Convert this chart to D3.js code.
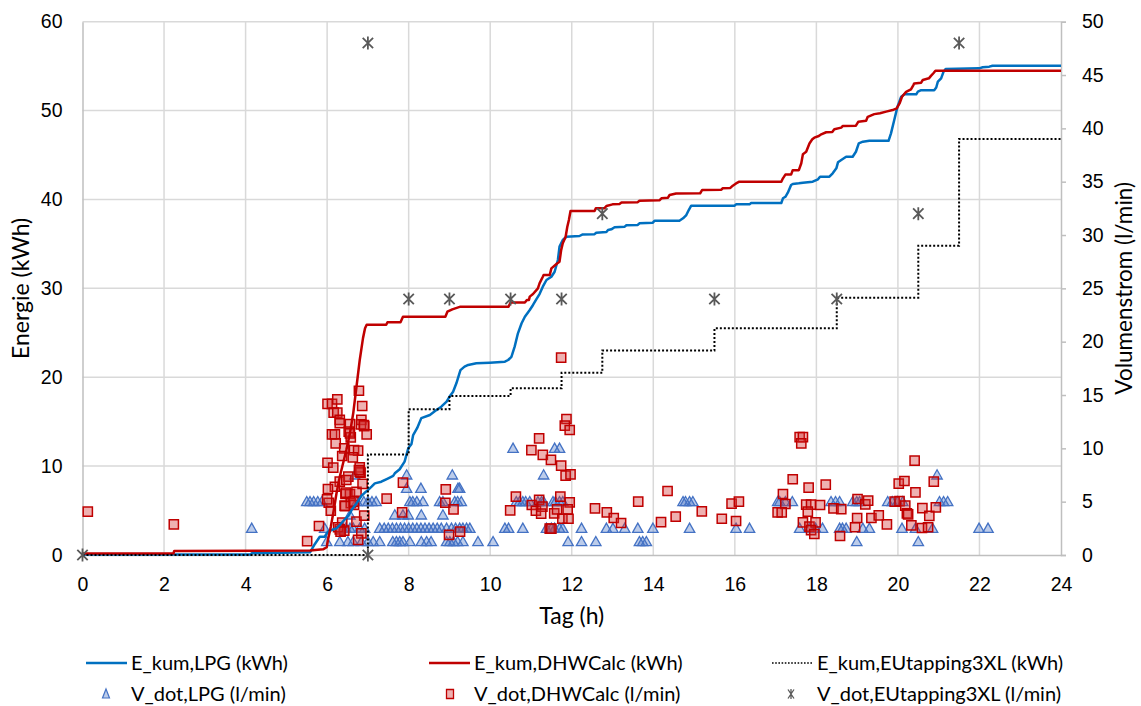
<!DOCTYPE html>
<html>
<head>
<meta charset="utf-8">
<script src="https://cdn.jsdelivr.net/npm/d3@7"></script>
<style>
  html, body { margin: 0; padding: 0; background: #fff; }
  svg { display: block; font-family: Lato, "Open Sans", sans-serif; }
</style>
</head>
<body>
<svg id="chart" width="1141" height="706"></svg>
<script>
// Cumulative energy (kWh) over the day, as [hour, kWh] points
const energyLPG = [[0,0.05],[4.13,0.05],[4.15,0.2],[5.58,0.3],[5.7,1.24],[5.82,2.06],[5.94,2.06],[6.02,2.62],[6.11,2.81],[6.23,3.0],[6.31,3.37],[6.42,3.94],[6.52,4.39],[6.6,5.06],[6.72,5.81],[6.84,6.64],[6.92,7.0],[7.0,7.3],[7.09,7.69],[7.17,8.06],[7.33,8.25],[7.5,8.63],[7.62,8.9],[7.66,9.19],[7.78,9.65],[7.9,10.5],[7.99,12.0],[8.07,12.5],[8.11,13.5],[8.21,14.3],[8.31,15.4],[8.52,15.75],[8.68,16.3],[8.8,16.69],[8.93,17.25],[9.0,17.8],[9.09,18.37],[9.17,19.32],[9.27,20.8],[9.37,21.19],[9.46,21.38],[9.66,21.57],[9.99,21.64],[10.36,21.75],[10.44,21.94],[10.52,22.3],[10.6,23.44],[10.68,24.94],[10.77,26.07],[10.85,26.81],[10.97,27.56],[11.05,28.13],[11.13,28.75],[11.21,29.36],[11.29,30.19],[11.38,30.94],[11.5,31.3],[11.58,31.87],[11.66,33.19],[11.7,34.69],[11.78,35.44],[11.87,35.81],[12.19,35.89],[12.27,36.07],[12.56,36.1],[12.6,36.26],[12.85,36.33],[12.89,36.56],[12.97,36.64],[13.05,36.87],[13.3,36.94],[13.34,37.1],[13.62,37.13],[13.66,37.32],[13.99,37.39],[14.03,37.61],[14.64,37.61],[14.73,37.88],[14.81,38.25],[14.87,38.81],[14.93,39.3],[15.99,39.3],[16.03,39.45],[16.36,39.45],[16.4,39.6],[17.14,39.6],[17.18,40.13],[17.24,40.3],[17.3,40.76],[17.38,41.63],[17.42,41.74],[17.57,41.82],[17.67,41.89],[17.91,42.0],[18.04,42.27],[18.09,42.56],[18.32,42.56],[18.4,42.94],[18.49,43.5],[18.53,44.18],[18.61,44.44],[18.73,44.81],[18.89,44.81],[18.97,45.37],[19.04,46.32],[19.14,46.5],[19.3,46.6],[19.77,46.6],[19.83,47.44],[19.91,48.94],[19.99,50.44],[20.08,51.56],[20.16,51.83],[20.45,51.83],[20.49,52.13],[20.57,52.3],[20.89,52.3],[20.94,52.6],[20.98,53.25],[21.06,53.63],[21.12,54.38],[21.17,54.68],[21.99,54.75],[22.08,54.87],[22.24,54.94],[22.32,55.05],[24,55.05]];

const energyDHWCalc = [[0,0.17],[2.23,0.17],[2.25,0.45],[5.58,0.5],[5.9,0.64],[5.99,0.87],[6.02,1.69],[6.09,3.19],[6.15,4.69],[6.23,6.94],[6.31,8.81],[6.39,10.3],[6.47,11.8],[6.56,13.7],[6.64,15.94],[6.72,18.93],[6.8,21.94],[6.88,24.4],[6.93,25.5],[6.97,25.9],[7.45,25.9],[7.48,26.18],[7.8,26.18],[7.86,26.81],[8.9,26.81],[8.95,27.37],[9.07,27.64],[9.27,27.94],[10.45,27.94],[10.5,28.4],[10.85,28.4],[10.9,28.7],[10.95,28.7],[10.97,29.07],[11.05,29.36],[11.17,30.0],[11.21,30.56],[11.29,31.3],[11.31,31.5],[11.46,31.5],[11.5,32.25],[11.64,32.8],[11.7,33.0],[11.74,34.3],[11.78,35.07],[11.85,35.8],[11.89,36.9],[11.93,37.7],[11.97,38.7],[12.56,38.7],[12.59,39.0],[12.8,39.0],[12.85,39.26],[13.0,39.45],[13.17,39.5],[13.22,39.67],[13.62,39.7],[13.66,39.86],[14.15,39.9],[14.2,40.13],[14.36,40.2],[14.4,40.5],[14.56,40.68],[15.15,40.7],[15.2,41.07],[15.67,41.1],[15.7,41.25],[15.89,41.3],[15.95,41.55],[16.03,41.8],[16.11,42.0],[17.14,42.0],[17.18,42.38],[17.24,42.8],[17.38,42.8],[17.42,43.3],[17.57,43.3],[17.63,44.07],[17.67,45.1],[17.75,45.37],[17.83,46.3],[17.9,46.77],[17.95,46.95],[18.06,47.14],[18.12,47.33],[18.24,47.56],[18.39,47.6],[18.44,47.9],[18.61,48.08],[18.65,48.27],[18.97,48.3],[19.03,48.75],[19.22,48.86],[19.26,49.3],[19.42,49.6],[19.56,49.7],[19.71,49.88],[19.87,50.06],[19.97,50.25],[20.04,50.8],[20.1,51.56],[20.2,52.1],[20.32,52.38],[20.38,52.87],[20.4,53.06],[20.57,53.14],[20.61,53.44],[20.76,53.63],[20.81,53.9],[20.87,54.2],[20.92,54.49],[24,54.49]];

// EU tapping cycle 3XL: cumulative energy after each tapping (step function)
const euTapHours  = [0, 7, 8, 9, 10.5, 11.75, 12.75, 15.5, 18.5, 20.5, 21.5, 24];
const euTapEnergy = [0, 11.3, 16.4, 17.9, 18.75, 20.5, 23.0, 25.5, 28.95, 34.8, 46.8, 46.8];

// Flow rates (l/min) as [hour, l/min]
const flowLPG = [
  [5.99,1.25],[6.31,1.25],[6.51,1.25],[6.64,1.25],[6.84,1.25],[7.0,1.25],[7.13,1.25],[7.29,1.25],[7.61,1.25],[7.7,1.25],[7.78,1.25],[7.86,1.25],[8.03,1.25],[8.31,1.25],[8.44,1.25],[8.55,1.25],[8.93,1.25],[9.01,1.25],[9.1,1.25],[9.2,1.25],[9.33,1.25],[9.7,1.25],[10.07,1.25],[11.91,1.25],[12.24,1.25],[12.59,1.25],[13.66,1.25],[13.74,1.25],[13.83,1.25],[18.99,1.25],[20.5,1.25],
  [4.15,2.5],[5.94,2.5],[6.38,2.5],[6.46,2.5],[6.56,2.5],[6.64,2.5],[6.8,2.5],[6.92,2.5],[7.29,2.5],[7.4,2.5],[7.5,2.5],[7.6,2.5],[7.7,2.5],[7.8,2.5],[7.9,2.5],[8.0,2.5],[8.1,2.5],[8.2,2.5],[8.3,2.5],[8.4,2.5],[8.5,2.5],[8.6,2.5],[8.7,2.5],[8.8,2.5],[8.93,2.5],[9.05,2.5],[9.15,2.5],[9.25,2.5],[9.33,2.5],[9.42,2.5],[9.5,2.5],[10.36,2.5],[10.45,2.5],[10.8,2.5],[11.38,2.5],[11.5,2.5],[11.58,2.5],[11.7,2.5],[11.78,2.5],[12.24,2.5],[12.85,2.5],[13.01,2.5],[13.3,2.5],[13.62,2.5],[13.99,2.5],[14.89,2.5],[16.03,2.5],[16.36,2.5],[17.59,2.5],[17.83,2.5],[17.98,2.5],[18.15,2.5],[18.57,2.5],[18.64,2.5],[18.73,2.5],[19.14,2.5],[19.3,2.5],[20.1,2.5],[20.43,2.5],[20.85,2.5],[21.99,2.5],[22.21,2.5],
  [6.56,3.75],[7.66,3.75],[7.86,3.75],[7.99,3.75],[8.31,3.75],[8.84,3.75],
  [5.5,5],[5.58,5],[5.67,5],[5.77,5],[5.87,5],[6.73,5],[6.9,5],[7.0,5],[7.1,5],[7.2,5],[8.03,5],[8.1,5],[8.2,5],[8.35,5],[8.76,5],[8.84,5],[9.13,5],[9.2,5],[9.29,5],[10.64,5],[10.72,5],[10.8,5],[10.87,5],[10.97,5],[11.17,5],[11.26,5],[11.31,5],[11.54,5],[11.6,5],[11.7,5],[11.78,5],[14.73,5],[14.79,5],[14.89,5],[14.97,5],[17.05,5],[17.1,5],[17.24,5],[17.41,5],[18.36,5],[18.47,5],[18.57,5],[18.89,5],[18.99,5],[19.06,5],[19.75,5],[19.86,5],[19.99,5],[20.12,5],[21.02,5],[21.12,5],[21.22,5],
  [7.95,6.25],[8.3,6.25],[9.21,6.25],[9.25,6.25],
  [6.68,7.5],[7.95,7.5],[9.07,7.5],[11.31,7.5],[20.96,7.5],
  [10.56,10],[11.58,10],[11.7,10]
];

const flowDHWCalc = [
  [0.13,4.06],[2.24,2.87],[5.51,1.3],[5.8,2.72],
  [6.01,14.16],[6.12,14.16],[6.25,14.6],[6.16,13.35],[6.25,13.35],[6.31,12.66],[6.12,11.31],[6.19,11.31],[6.21,10.47],[6.42,10.0],[6.37,9.28],[6.56,12.28],[6.53,11.56],[6.58,11.03],[6.66,9.84],[6.76,9.78],[6.63,9.16],[6.78,15.4],[6.86,13.97],[6.84,12.66],[6.91,12.09],[6.97,11.31],[6.01,8.65],[6.15,8.19],[6.8,8.22],[6.82,7.72],[6.52,7.34],[6.31,6.87],[6.19,6.4],[6.02,6.19],[6.45,5.72],[6.56,5.72],[6.72,5.93],[6.87,6.66],[6.43,4.62],[6.58,4.85],[6.66,4.69],[6.04,4.9],[6.09,4.15],[6.37,3.03],[6.31,2.41],[6.42,2.28],[6.72,3.12],[6.91,3.69],[6.84,2.03],[6.76,1.41],
  [6.0,5.22],[6.47,7.03],[6.46,5.84],[6.65,5.0],[6.44,4.59],[6.8,7.81],[6.27,2.6],[6.33,2.19],[6.56,11.4],[6.83,12.25],[6.31,12.35],[6.9,12.19],[6.78,7.97],
  [7.46,5.28],[7.86,6.78],[7.84,4.0],[8.91,6.16],[8.9,4.9],[9.1,4.28],[8.99,1.88],[9.26,2.19],
  [11.74,18.5],[11.87,12.75],[11.83,12.13],[11.95,11.72],[11.2,10.94],[11.01,9.84],[11.29,9.38],[11.49,8.91],[11.74,8.38],[11.85,7.44],[11.97,7.56],[10.63,5.47],[10.49,4.19],[11.02,4.69],[11.2,5.16],[11.12,4.15],[11.28,4.53],[11.25,3.87],[11.46,2.47],[11.5,2.47],[11.57,3.9],[11.64,4.28],[11.72,5.47],[11.95,4.94],[11.9,4.28],[11.77,3.4],[11.92,3.4],
  [12.57,4.37],[12.86,4.0],[13.03,3.47],[13.21,3.0],[13.63,5.0],[14.35,6.0],[14.19,3.09],[14.55,3.59],[15.19,4.09],[15.68,3.4],[15.92,4.81],[16.1,5.0],[16.03,3.19],
  [17.05,4.0],[17.18,5.72],[17.24,4.78],[17.15,4.0],[17.42,7.1],[17.59,11.06],[17.67,11.06],[17.63,10.47],[17.81,6.31],[17.75,4.72],[17.87,4.72],[17.79,4.06],[18.09,4.69],[17.67,3.06],[17.83,2.66],[17.98,3.06],[17.87,2.34],[17.95,1.97],[18.23,6.59],[18.42,4.37],[18.61,4.31],[18.58,1.78],[19.01,5.25],[19.2,4.75],[19.27,5.09],[19.0,3.47],[18.95,2.6],[19.35,3.47],[19.53,3.72],[19.73,2.87],[20.02,6.69],[20.16,6.94],[20.41,8.84],[20.43,5.88],[19.92,5.0],[20.04,5.06],[20.18,4.62],[20.22,3.9],[20.25,3.81],[20.33,2.78],[20.6,4.4],[20.77,3.66],[20.59,2.53],[20.74,2.6],[20.88,6.87],[20.93,4.47]
];

const flowEUtapping = [[0,0],[7,0],[7,48],[8,24],[9,24],[10.5,24],[11.75,24],[12.75,32],[15.5,24],[18.5,24],[20.5,32],[21.5,48]];

// Axes
const hourTicks   = [0, 2, 4, 6, 8, 10, 12, 14, 16, 18, 20, 22, 24];
const energyTicks = [0, 10, 20, 30, 40, 50, 60];
const flowTicks   = [0, 5, 10, 15, 20, 25, 30, 35, 40, 45, 50];

const legendItems = [
  { label: "E_kum,LPG (kWh)", kind: "line", color: "#0070C0" },
  { label: "E_kum,DHWCalc (kWh)", kind: "line", color: "#C00000" },
  { label: "E_kum,EUtapping3XL (kWh)", kind: "dots", color: "#000" },
  { label: "V_dot,LPG (l/min)", kind: "triangle" },
  { label: "V_dot,DHWCalc (l/min)", kind: "square" },
  { label: "V_dot,EUtapping3XL (l/min)", kind: "star" }
];

const svg = d3.select("#chart");
const plot = { left: 82.5, right: 1061, top: 21.7, bottom: 555 };

const x  = d3.scaleLinear().domain([0, 24]).range([plot.left, plot.right]);
const yE = d3.scaleLinear().domain([0, 60]).range([plot.bottom, plot.top]);
const yV = d3.scaleLinear().domain([0, 50]).range([plot.bottom, plot.top]);

// Gridlines
const grid = svg.append("g").attr("stroke", "#d9d9d9").attr("stroke-width", 1.5);
grid.selectAll(".gh").data(energyTicks.filter(d => d > 0)).join("line")
  .attr("x1", plot.left).attr("x2", plot.right)
  .attr("y1", d => yE(d)).attr("y2", d => yE(d));
grid.selectAll(".gv").data(hourTicks.filter(d => d > 0 && d < 24)).join("line")
  .attr("y1", plot.top).attr("y2", plot.bottom)
  .attr("x1", d => x(d)).attr("x2", d => x(d));

// Axis lines and labels
const axisColor = "#bfbfbf";
const xAxis = svg.append("g").attr("transform", `translate(0,${plot.bottom})`)
  .call(d3.axisBottom(x).tickValues(hourTicks).tickSize(0).tickPadding(0));
xAxis.select(".domain").attr("stroke", axisColor).attr("stroke-width", 1.5);
xAxis.selectAll("text").attr("y", 36).attr("dy", 0).attr("font-size", 19.5).attr("fill", "#000");

const yAxisL = svg.append("g").attr("transform", `translate(${plot.left},0)`)
  .call(d3.axisLeft(yE).tickValues(energyTicks).tickSize(0).tickPadding(20));
yAxisL.select(".domain").attr("stroke", axisColor).attr("stroke-width", 1.5);
yAxisL.selectAll("text").attr("font-size", 19.5).attr("fill", "#000");

const yAxisR = svg.append("g").attr("transform", `translate(${plot.right},0)`)
  .call(d3.axisRight(yV).tickValues(flowTicks).tickSize(5).tickPadding(16));
yAxisR.select(".domain").attr("stroke", axisColor).attr("stroke-width", 1.5);
yAxisR.selectAll(".tick line").attr("stroke", axisColor).attr("stroke-width", 1.5);
yAxisR.selectAll("text").attr("font-size", 19.5).attr("fill", "#000");
svg.selectAll(".domain").attr("fill", "none");

// Axis titles
svg.append("text").attr("x", (plot.left + plot.right) / 2).attr("y", 624)
  .attr("text-anchor", "middle").attr("font-size", 23).text("Tag (h)");
svg.append("text").attr("transform", `translate(29,${(plot.top + plot.bottom) / 2}) rotate(-90)`)
  .attr("text-anchor", "middle").attr("font-size", 23).text("Energie (kWh)");
svg.append("text").attr("transform", `translate(1132,${(plot.top + plot.bottom) / 2}) rotate(-90)`)
  .attr("text-anchor", "middle").attr("font-size", 22.5).text("Volumenstrom (l/min)");

// Marker shapes
const triPath = "M0,-5.2L5.2,4L-5.2,4Z";
const sqPath = "M-4.6,-4.6H4.6V4.6H-4.6Z";
const starPath = "M-5.2,-5.2L5.2,5.2M-5.2,5.2L5.2,-5.2M0,-6.5V6.5";

const marks = svg.append("g");
marks.selectAll(".tri").data(flowLPG).join("path")
  .attr("d", triPath)
  .attr("transform", d => `translate(${x(d[0])},${yV(d[1])})`)
  .attr("fill", "rgba(68,114,196,0.36)").attr("stroke", "#4472C4").attr("stroke-width", 1.3);

marks.selectAll(".sq").data(flowDHWCalc).join("path")
  .attr("d", sqPath)
  .attr("transform", d => `translate(${x(d[0])},${yV(d[1])})`)
  .attr("fill", "rgba(210,50,50,0.38)").attr("stroke", "#C00000").attr("stroke-width", 1.5);

// Energy lines
const lineE = d3.line().x(d => x(d[0])).y(d => yE(d[1]));
svg.append("path").datum(energyLPG).attr("d", lineE)
  .attr("fill", "none").attr("stroke", "#0070C0").attr("stroke-width", 2.5).attr("stroke-linejoin", "round");
svg.append("path").datum(energyDHWCalc).attr("d", lineE)
  .attr("fill", "none").attr("stroke", "#C00000").attr("stroke-width", 2.5).attr("stroke-linejoin", "round");

const euSteps = euTapHours.map((h, i) => [h, euTapEnergy[i]]);
svg.append("path").datum(euSteps)
  .attr("d", d3.line().curve(d3.curveStepAfter).x(d => x(d[0])).y(d => yE(d[1])))
  .attr("fill", "none").attr("stroke", "#000").attr("stroke-width", 2).attr("stroke-dasharray", "2 2");

svg.append("g").selectAll("path").data(flowEUtapping).join("path")
  .attr("d", starPath)
  .attr("transform", d => `translate(${x(d[0])},${yV(d[1])})`)
  .attr("fill", "none").attr("stroke", "#595959").attr("stroke-width", 1.8);

// Legend
const legCols = [86, 429, 772];
const legRows = [663, 694];
const leg = svg.append("g");
legendItems.forEach((it, i) => {
  const cx = legCols[i % 3], cy = legRows[Math.floor(i / 3)];
  const g = leg.append("g");
  if (it.kind === "line") {
    g.append("line").attr("x1", cx).attr("x2", cx + 41).attr("y1", cy).attr("y2", cy)
      .attr("stroke", it.color).attr("stroke-width", 2.5);
  } else if (it.kind === "dots") {
    g.append("line").attr("x1", cx).attr("x2", cx + 41).attr("y1", cy).attr("y2", cy)
      .attr("stroke", it.color).attr("stroke-width", 1.6).attr("stroke-dasharray", "1.6 1.6");
  } else if (it.kind === "triangle") {
    g.append("path").attr("d", "M0,-5L3.5,4L-3.5,4Z").attr("transform", `translate(${cx + 20},${cy})`)
      .attr("fill", "rgba(68,114,196,0.36)").attr("stroke", "#4472C4").attr("stroke-width", 1.2);
  } else if (it.kind === "square") {
    g.append("path").attr("d", "M-3.5,-4.5H3.5V4.5H-3.5Z").attr("transform", `translate(${cx + 21},${cy})`)
      .attr("fill", "rgba(210,50,50,0.38)").attr("stroke", "#C00000").attr("stroke-width", 1.3);
  } else {
    g.append("path").attr("d", "M-3,-4.5L3,4.5M-3,4.5L3,-4.5M0,-5V5").attr("transform", `translate(${cx + 19},${cy})`)
      .attr("fill", "none").attr("stroke", "#595959").attr("stroke-width", 1.3);
  }
  g.append("text").attr("x", cx + 45).attr("y", cy + 7).attr("font-size", 20).text(it.label);
});
</script>
</body>
</html>
